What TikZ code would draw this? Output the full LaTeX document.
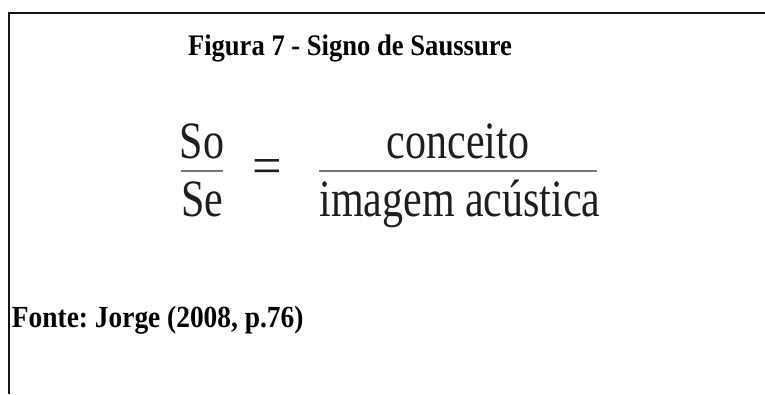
\documentclass[tikz,border=0pt]{standalone}
\usepackage{fontspec}
\setmainfont{Liberation Serif}
\usepackage{tikz}
\usetikzlibrary{positioning,calc}
\frenchspacing
\definecolor{frameBlack}{RGB}{20,20,20}
\definecolor{formulaGray}{RGB}{30,30,30}
\definecolor{barGray}{RGB}{120,120,120}
\newcommand{\tallcap}[1]{\scalebox{1}[1.12]{#1}}
\newcommand{\tallterm}[1]{\scalebox{1}[1.25]{#1}}

\begin{document}
\begin{tikzpicture}[
  x=1pt, y=-1pt,
  every node/.style={inner sep=0pt, outer sep=0pt},
  caption/.style={font=\fontsize{26.6}{32}\selectfont\bfseries, text=black, anchor=base west},
  term/.style={font=\fontsize{42}{48}\selectfont, text=formulaGray, anchor=base},
  fracbar/.style={draw=barGray, line width=2pt},
]
\useasboundingbox (0,0) rectangle (765,394);

% Frame: top and left edges only
\draw[frameBlack, line width=1.8pt] (765,13) -- (9,13) -- (9,394);

% Title and source
\node[caption] (title) at (188,55) {\tallcap{Figura 7 - Signo de Saussure}};
\node[caption, font=\fontsize{27.4}{32}\selectfont\bfseries] (fonte) at (12,327)
  {\tallcap{Fonte: Jorge (2008, p.76)}};

% Left fraction: So / Se
\node[term] (so) at (202,158) {\tallterm{So}};
\node[term] (se) at (202,216) {\tallterm{Se}};
\coordinate (barAL) at (181,171);
\coordinate (barAR) at (223,171);
\draw[fracbar] (barAL) -- (barAR);

% Equals sign
\node[term, anchor=center] (eqsign) at (267,171) {\scalebox{1.25}{=}};

% Right fraction: conceito / imagem acustica
\node[term] (conc) at (458,158) {\tallterm{conceito}};
\node[term] (imag) at (460,216) {\tallterm{imagem acústica}};
\coordinate (barBL) at (319,171);
\coordinate (barBR) at (597,171);
\draw[fracbar] (barBL) -- (barBR);

\end{tikzpicture}
\end{document}
